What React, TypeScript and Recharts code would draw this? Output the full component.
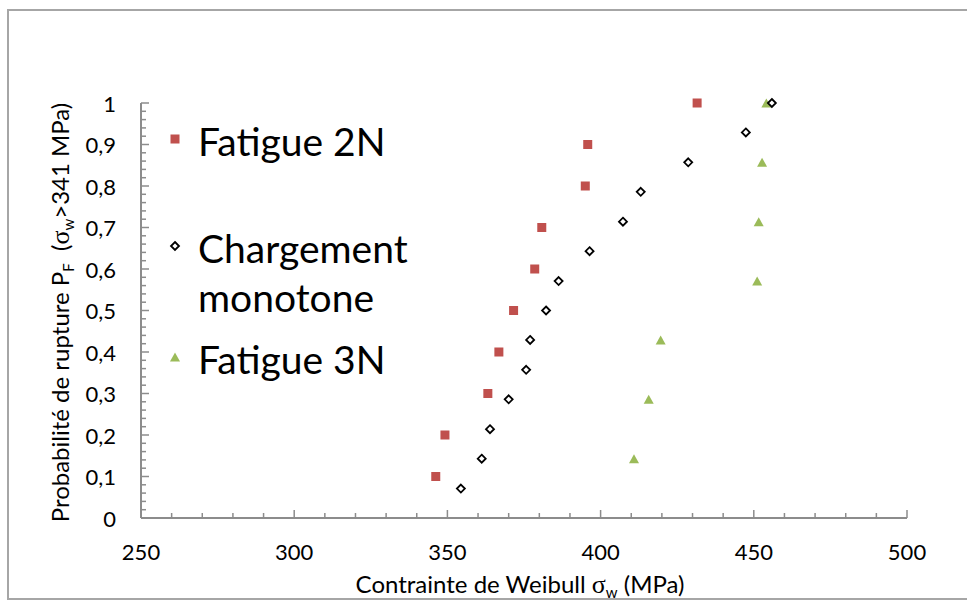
import React from 'react';
import { ScatterChart, Scatter, XAxis, YAxis, Label } from 'recharts';

// ---- Data ----
const seriesNames = ['Fatigue 2N', 'Chargement monotone', 'Fatigue 3N'];

const fatigue2N_x = [346.2, 349.2, 363.2, 366.8, 371.6, 378.5, 380.8, 395.0, 395.8, 431.5];
const fatigue2N_y = [0.1, 0.2, 0.3, 0.4, 0.5, 0.6, 0.7, 0.8, 0.9, 1.0];

const monotone_x = [354.4, 361.2, 363.9, 370.0, 375.7, 377.0, 382.2, 386.3, 396.4, 407.3, 413.1, 428.6, 447.4, 455.9];
const monotone_y = [0.071, 0.143, 0.214, 0.286, 0.357, 0.429, 0.5, 0.571, 0.643, 0.714, 0.786, 0.857, 0.929, 1.0];

const fatigue3N_x = [410.9, 415.7, 419.6, 451.1, 451.6, 452.7, 454.1];
const fatigue3N_y = [0.143, 0.286, 0.429, 0.571, 0.714, 0.857, 1.0];

const xTicks = [250, 260, 270, 280, 290, 300, 310, 320, 330, 340, 350, 360, 370, 380, 390, 400, 410, 420, 430, 440, 450, 460, 470, 480, 490, 500];
const xMajorStep = 50;
const yMajorTicks = [0, 0.1, 0.2, 0.3, 0.4, 0.5, 0.6, 0.7, 0.8, 0.9, 1];
const yMinorPerMajor = 5;

const toPoints = (xs: number[], ys: number[]) => xs.map((x, i) => ({ x, y: ys[i] }));
const data2N = toPoints(fatigue2N_x, fatigue2N_y);
const dataMono = toPoints(monotone_x, monotone_y);
const data3N = toPoints(fatigue3N_x, fatigue3N_y);

const yTicks: number[] = [];
for (let i = 0; i < yMajorTicks.length - 1; i++) {
  const a = yMajorTicks[i];
  const b = yMajorTicks[i + 1];
  for (let k = 0; k < yMinorPerMajor; k++) yTicks.push(+(a + ((b - a) * k) / yMinorPerMajor).toFixed(4));
}
yTicks.push(yMajorTicks[yMajorTicks.length - 1]);

// ---- Styles ----
const FONT = 'Lato, "Open Sans", sans-serif';
const AXIS_COLOR = '#8c8c8c';
const RED = '#c0504d';
const GREEN = '#9bbb59';
const X_TICK_MARGIN = 24;
const Y_TICK_MARGIN = 25;
const TICK_FONT = 22;
const TITLE_FONT = 24;

const SquareShape = (p: any) => {
  const s = 9;
  return <rect x={p.cx - s / 2} y={p.cy - s / 2} width={s} height={s} fill={RED} />;
};
const DiamondShape = (p: any) => {
  const r = 4;
  return (
    <path
      d={`M${p.cx},${p.cy - r} L${p.cx + r},${p.cy} L${p.cx},${p.cy + r} L${p.cx - r},${p.cy} Z`}
      fill="#fff"
      stroke="#000"
      strokeWidth={1.8}
    />
  );
};
const TriangleShape = (p: any) => {
  const w = 10;
  const h = 9;
  return (
    <path
      d={`M${p.cx},${p.cy - h / 2} L${p.cx + w / 2},${p.cy + h / 2} L${p.cx - w / 2},${p.cy + h / 2} Z`}
      fill={GREEN}
    />
  );
};

const XTick = (props: any) => {
  const { x, y, payload } = props;
  const v = payload.value;
  const major = Math.abs(v % xMajorStep) < 1e-6;
  const axisY = y - X_TICK_MARGIN;
  return (
    <g>
      <line x1={x} x2={x} y1={axisY} y2={axisY - (major ? 8 : 5)} stroke={AXIS_COLOR} strokeWidth={1.5} />
      {major && (
        <text x={x} y={axisY + 33} textAnchor="middle" dominantBaseline="central" fontFamily={FONT} fontSize={TICK_FONT} fill="#000">
          {v}
        </text>
      )}
    </g>
  );
};

const fmtY = (v: number) => (v === 0 ? '0' : v === 1 ? '1' : v.toFixed(1).replace('.', ','));

const YTick = (props: any) => {
  const { x, y, payload } = props;
  const v = payload.value;
  const major = Math.abs(v * 10 - Math.round(v * 10)) < 1e-6;
  const axisX = x + Y_TICK_MARGIN;
  return (
    <g>
      <line x1={axisX} x2={axisX + (major ? 8 : 5)} y1={y} y2={y} stroke={AXIS_COLOR} strokeWidth={1.5} />
      {major && (
        <text x={x} y={y} textAnchor="end" dominantBaseline="central" fontFamily={FONT} fontSize={TICK_FONT} fill="#000">
          {fmtY(v)}
        </text>
      )}
    </g>
  );
};

const XLabel = (props: any) => {
  const vb = props.viewBox || {};
  const cx = vb.x + vb.width / 2;
  return (
    <text x={cx - 4} y={593} textAnchor="middle" fontFamily={FONT} fontSize={TITLE_FONT} fill="#000" style={{ whiteSpace: 'pre' }}>
      Contrainte de Weibull{' '}
      <tspan fontFamily='"Liberation Serif", serif' fontSize={26}>σ</tspan>
      <tspan fontSize={15} dy={5}>w</tspan>
      <tspan dy={-5}> (MPa)</tspan>
    </text>
  );
};

const YLabel = (props: any) => {
  const vb = props.viewBox || {};
  const cy = vb.y + vb.height / 2;
  return (
    <text
      transform={`translate(69,${cy + 2}) rotate(-90)`}
      textAnchor="middle"
      fontFamily={FONT}
      fontSize={TITLE_FONT}
      fill="#000"
      style={{ whiteSpace: 'pre' }}
    >
      Probabilité de rupture P
      <tspan fontSize={15} dy={5}>F</tspan>
      <tspan dy={-5}>{'  ('}</tspan>
      <tspan fontFamily='"Liberation Serif", serif' fontSize={26}>σ</tspan>
      <tspan fontSize={15} dy={5}>w</tspan>
      <tspan dy={-5}>{'>341 MPa)'}</tspan>
    </text>
  );
};

const legendItems = [
  { lines: ['Fatigue 2N'], shape: SquareShape, markerY: 139 },
  { lines: ['Chargement', 'monotone'], shape: DiamondShape, markerY: 246 },
  { lines: ['Fatigue 3N'], shape: TriangleShape, markerY: 357 },
];

const LegendOverlay = () => (
  <svg width={967} height={603} style={{ position: 'absolute', left: 0, top: 0, pointerEvents: 'none' }}>
    {legendItems.map((it, i) => (
      <g key={seriesNames[i]}>
        {it.shape({ cx: 175, cy: it.markerY })}
        <text x={198} y={it.markerY + 17} fontFamily={FONT} fontSize={39} fill="#000">
          {it.lines.map((l, j) => (
            <tspan key={j} x={198} dy={j === 0 ? 0 : 49}>
              {l}
            </tspan>
          ))}
        </text>
      </g>
    ))}
  </svg>
);

export default function App() {
  return (
    <div style={{ position: 'absolute', left: 0, top: 0, width: 967, height: 603, background: '#fff', overflow: 'hidden' }}>
      <div
        style={{
          position: 'absolute',
          left: 7,
          top: 9,
          width: 1000,
          height: 591,
          border: '2px solid #a6a6a6',
          boxSizing: 'border-box',
        }}
      />
      <div style={{ position: 'absolute', left: 0, top: 0 }}>
        <ScatterChart width={967} height={603} margin={{ top: 103, right: 60, bottom: 25, left: 61 }}>
          <XAxis
            type="number"
            dataKey="x"
            domain={[250, 500]}
            ticks={xTicks}
            interval={0}
            tickSize={0}
            tickMargin={X_TICK_MARGIN}
            tick={<XTick />}
            tickLine={false}
            axisLine={{ stroke: AXIS_COLOR, strokeWidth: 2 }}
            height={60}
          >
            <Label content={<XLabel />} />
          </XAxis>
          <YAxis
            type="number"
            dataKey="y"
            domain={[0, 1]}
            ticks={yTicks}
            interval={0}
            tickSize={0}
            tickMargin={Y_TICK_MARGIN}
            tick={<YTick />}
            tickLine={false}
            axisLine={{ stroke: AXIS_COLOR, strokeWidth: 2 }}
            width={80}
          >
            <Label content={<YLabel />} />
          </YAxis>
          <Scatter name={seriesNames[0]} data={data2N} shape={SquareShape} isAnimationActive={false} />
          <Scatter name={seriesNames[2]} data={data3N} shape={TriangleShape} isAnimationActive={false} />
          <Scatter name={seriesNames[1]} data={dataMono} shape={DiamondShape} isAnimationActive={false} />
        </ScatterChart>
      </div>
      <LegendOverlay />
    </div>
  );
}
